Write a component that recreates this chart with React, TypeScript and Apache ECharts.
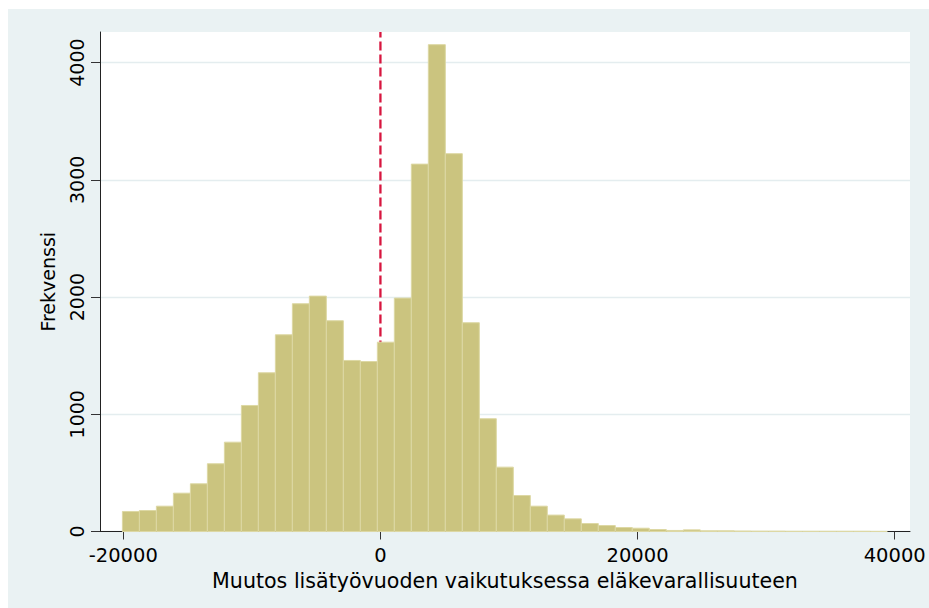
import React, { useEffect, useRef } from "react";
import * as echarts from "echarts";

// Histogram bins (Stata-style): start of first bin and common bin width
const binStart = -20070;
const binWidth = 1322;
// Frequencies per bin
const counts = [
  171, 179, 216, 327, 407, 578, 762, 1075, 1354, 1678, 1943, 2008, 1798, 1459, 1450,
  1615, 1991, 3134, 4153, 3223, 1781, 962, 549, 307, 216, 140, 108, 68, 51, 34,
  28, 17, 9, 14, 6, 6, 4, 3, 3, 2, 2, 2, 2, 2, 1,
];
const xTicks = [-20000, 0, 20000, 40000];
const yTicks = [0, 1000, 2000, 3000, 4000];
const refLineX = 0;
const xName = "Muutos lisätyövuoden vaikutuksessa eläkevarallisuuteen";
const yName = "Frekvenssi";

export default function App() {
  const ref = useRef<HTMLDivElement>(null);
  useEffect(() => {
    if (!ref.current) return;
    const chart = echarts.init(ref.current, undefined, { renderer: "svg" });
    const font = "DejaVu Sans";
    const yMax = 4261;
    const plain = (v: number) => String(v);
    chart.setOption({
      animation: false,
      backgroundColor: "#EAF2F3",
      grid: {
        left: 92,
        right: 19,
        top: 23,
        bottom: 76.5,
        show: true,
        backgroundColor: "#ffffff",
        borderWidth: 0,
      },
      xAxis: {
        type: "value",
        min: -21812,
        max: 41190,
        name: xName,
        nameLocation: "middle",
        nameGap: 35,
        nameTextStyle: { fontFamily: font, fontSize: 20.6, color: "#000" },
        axisLine: { show: true, onZero: false, lineStyle: { color: "#222", width: 1 } },
        axisTick: { show: true, length: 8, customValues: xTicks, lineStyle: { color: "#333" } },
        axisLabel: {
          customValues: xTicks,
          formatter: plain,
          fontFamily: font,
          fontSize: 19.5,
          color: "#000",
          margin: 14,
          showMinLabel: true,
          showMaxLabel: true,
        },
        splitLine: { show: false },
      },
      yAxis: {
        type: "value",
        min: 0,
        max: yMax,
        name: yName,
        nameLocation: "middle",
        nameRotate: 90,
        nameGap: 43,
        nameTextStyle: { fontFamily: font, fontSize: 19, color: "#000" },
        axisLine: { show: true, onZero: false, lineStyle: { color: "#222", width: 1 } },
        axisTick: { show: true, length: 9, customValues: yTicks, lineStyle: { color: "#333" } },
        axisLabel: {
          customValues: yTicks,
          formatter: plain,
          rotate: 90,
          fontFamily: font,
          fontSize: 19,
          color: "#000",
          margin: 14,
        },
        splitLine: {
          show: true,
          lineStyle: { color: "#E4EDEF", width: 1.3 },
        },
      },
      series: [
        {
          type: "line",
          z: 1,
          symbol: "none",
          silent: true,
          data: [
            [refLineX, 0],
            [refLineX, yMax],
          ],
          lineStyle: { color: "#D7163F", width: 2.3, type: [9, 4] },
        },
        {
          type: "custom",
          z: 2,
          data: counts.map((c, i) => [binStart + i * binWidth, binStart + (i + 1) * binWidth, c]),
          encode: { x: [0, 1], y: 2 },
          renderItem: (params: any, api: any) => {
            const x0 = api.value(0);
            const x1 = api.value(1);
            const v = api.value(2);
            const p0 = api.coord([x0, v]);
            const p1 = api.coord([x1, 0]);
            return {
              type: "rect",
              shape: { x: p0[0], y: p0[1], width: p1[0] - p0[0], height: p1[1] - p0[1] },
              style: { fill: "#CBC47F", stroke: "#DDD8A4", lineWidth: 1 },
            };
          },
        },
      ],
    });
    return () => chart.dispose();
  }, []);
  return (
    <div
      style={{
        position: "fixed",
        left: 8,
        top: 9,
        width: 921,
        height: 599,
        background: "#EAF2F3",
      }}
    >
      <div ref={ref} style={{ width: 921, height: 599 }} />
    </div>
  );
}
